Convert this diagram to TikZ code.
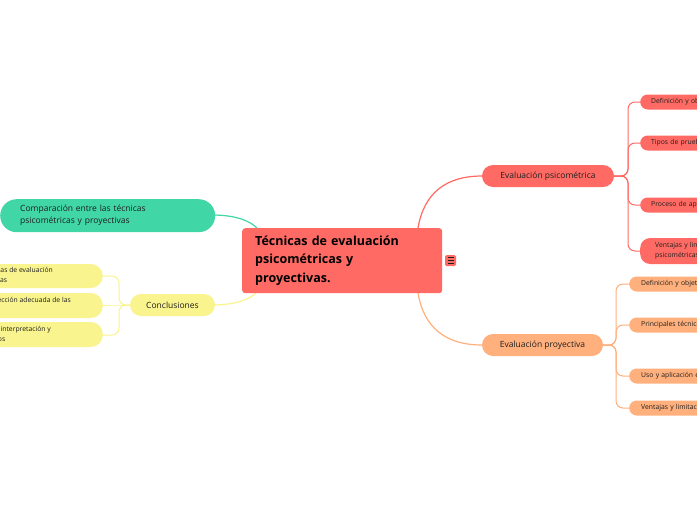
\documentclass[tikz,border=0pt]{standalone}
\usepackage{fontspec}
\setmainfont{Open Sans}
\definecolor{cred}{HTML}{FF6B64}
\definecolor{corange}{HTML}{FFB07C}
\definecolor{cteal}{HTML}{40D6A5}
\definecolor{cyellow}{HTML}{F9F48D}
\definecolor{ctext}{HTML}{1E1E1E}
\tikzset{
  central/.style={fill=cred, rounded corners=3pt, anchor=north west, minimum width=200pt, minimum height=65pt,
    text width=174pt, inner xsep=13pt, inner ysep=0pt, align=left, font=\fontsize{12.5}{18.5}\selectfont\bfseries, text=black},
  branch/.style={rounded corners=11pt, minimum height=22pt, inner sep=0pt, font=\fontsize{8.5}{10}\selectfont, text=ctext},
  rchild/.style={rounded corners=7.5pt, anchor=west, text width=130pt, minimum height=15pt, inner ysep=0pt,
    align=left, font=\fontsize{6.8}{10}\selectfont, text=ctext},
  lbox/.style={fill=cyellow, rounded corners=12pt, anchor=east, minimum width=170pt, minimum height=24pt, inner sep=0pt},
  ltext/.style={anchor=north east, inner sep=0pt, align=left, font=\fontsize{6.8}{9.5}\selectfont, text=ctext},
  link/.style={line width=1.2pt},
  bracket/.style={line width=1pt, rounded corners=7pt},
}
\begin{document}
\begin{tikzpicture}[x=1pt,y=-1pt]
\useasboundingbox (0,0) rectangle (697,520);
\clip (0,0) rectangle (697,520);
\fill[white] (0,0) rectangle (697,520);

% connectors from central
\draw[link, cred] (418,228) .. controls (424,193) and (446,176) .. (482,176);
\draw[link, corange] (418,293) .. controls (424,328) and (446,345) .. (482,345);
\draw[link, cteal] (212,215) .. controls (236,215) and (250,221) .. (257,228);
\draw[link, cyellow] (212,305) .. controls (236,305) and (250,299) .. (256,293);

% central node
\node[central] (c) at (242,228) {Técnicas de evaluación\\psicométricas y\\proyectivas.};

% icon
\node[fill=cred, rounded corners=1.5pt, minimum width=11pt, minimum height=11pt, inner sep=0pt] (icon) at (450.5,260.5) {};
\draw[ctext, line width=0.8pt] (447.5,257.5) -- (453.5,257.5) (447.5,260.5) -- (453.5,260.5) (447.5,263.5) -- (453.5,263.5);

% branches
\node[branch, fill=cred, minimum width=132pt] (ps) at (548,176) {Evaluación psicométrica};
\node[branch, fill=corange, minimum width=121pt] (pr) at (542.5,345) {Evaluación proyectiva};
\node[branch, fill=cyellow, minimum width=85pt] (co) at (172.5,305) {Conclusiones};
\node[fill=cteal, rounded corners=16.5pt, anchor=north west, minimum width=215pt, minimum height=33pt,
  text width=175pt, inner xsep=20pt, inner ysep=0pt, align=left, font=\fontsize{8.5}{12}\selectfont, text=ctext] (cm) at (0,199)
  {Comparación entre las técnicas\\psicométricas y proyectivas};

% psicometrica children
\coordinate (psb) at (628,176);
\draw[bracket, cred] (ps.east) -- (psb) -- (628,102) -- (641,102);
\draw[bracket, cred] (ps.east) -- (psb) -- (628,143) -- (641,143);
\draw[bracket, cred] (ps.east) -- (psb) -- (628,205) -- (641,205);
\draw[bracket, cred] (ps.east) -- (psb) -- (628,251) -- (641,251);
\node[rchild, fill=cred, inner xsep=11pt] (ps1) at (640,102) {Definición y objetivos};
\node[rchild, fill=cred, inner xsep=11pt] (ps2) at (640,143) {Tipos de pruebas psicométricas};
\node[rchild, fill=cred, inner xsep=11pt] (ps3) at (640,205) {Proceso de aplicación};
\node[rchild, fill=cred, inner xsep=15pt, minimum height=26pt, rounded corners=10pt] (ps4) at (640,251) {Ventajas y limitaciones de las pruebas\\psicométricas};

% proyectiva children
\coordinate (prb) at (616,345);
\draw[bracket, corange] (pr.east) -- (prb) -- (616,284) -- (630,284);
\draw[bracket, corange] (pr.east) -- (prb) -- (616,325) -- (630,325);
\draw[bracket, corange] (pr.east) -- (prb) -- (616,376) -- (630,376);
\draw[bracket, corange] (pr.east) -- (prb) -- (616,408) -- (630,408);
\node[rchild, fill=corange, inner xsep=12pt] (pr1) at (629,284) {Definición y objetivos};
\node[rchild, fill=corange, inner xsep=12pt] (pr2) at (629,325) {Principales técnicas proyectivas};
\node[rchild, fill=corange, inner xsep=12pt] (pr3) at (629,376) {Uso y aplicación en la práctica};
\node[rchild, fill=corange, inner xsep=12pt] (pr4) at (629,408) {Ventajas y limitaciones};

% conclusiones children
\coordinate (cob) at (119,305);
\draw[bracket, cyellow] (co.west) -- (cob) -- (119,276) -- (102,276);
\draw[bracket, cyellow] (co.west) -- (cob) -- (102,305);
\draw[bracket, cyellow] (co.west) -- (cob) -- (119,335) -- (102,335);
\node[lbox] (l1) at (103,276) {};
\node[lbox, minimum height=25pt] (l2) at (103,305.5) {};
\node[lbox, minimum height=25pt] (l3) at (103,334.5) {};
\node[ltext] (l1t) at (53,267.5) {Uso combinado de técnicas de evaluación\\psicométricas y proyectivas};
\node[ltext] (l2t) at (71,297.5) {Importancia de la selección adecuada de las\\técnicas};
\node[ltext] (l3t) at (51,326.5) {Importancia de la interpretación y\\lectura de los datos};
\end{tikzpicture}
\end{document}
